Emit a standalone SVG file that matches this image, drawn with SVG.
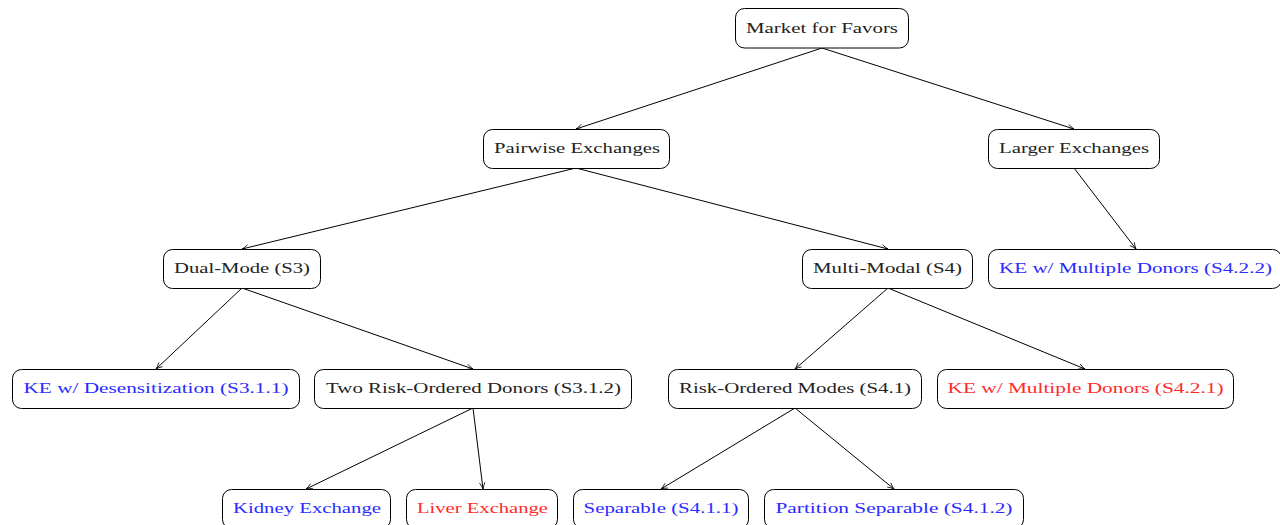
<svg xmlns="http://www.w3.org/2000/svg" width="1280" height="525" viewBox="0 0 1280 525">
<style>
.box{fill:#fff;stroke:#000;stroke-width:1}
.t{font-family:"Liberation Serif",serif;font-size:15.5px;fill:#222;text-anchor:middle}
.b{fill:#2a2aff}
.r{fill:#ff2a2a}
.e{stroke:#000;stroke-width:1;fill:none;marker-end:url(#ar)}
</style>
<defs>
<marker id="ar" viewBox="0 0 10 10" refX="9" refY="5" markerWidth="8" markerHeight="8" markerUnits="userSpaceOnUse" orient="auto">
<path d="M1,1.5 Q5,4 9,5 Q5,6 1,8.5" fill="none" stroke="#000" stroke-width="1"/>
</marker>
</defs>
<rect width="1280" height="525" fill="#fff"/>
<g id="connectors">
<line class="e" x1="822" y1="48" x2="576" y2="129"/>
<line class="e" x1="822" y1="48" x2="1074" y2="129"/>
<line class="e" x1="576" y1="168" x2="242" y2="249"/>
<line class="e" x1="576" y1="168" x2="888" y2="249"/>
<line class="e" x1="1074" y1="168" x2="1136" y2="249"/>
<line class="e" x1="242" y1="288" x2="156" y2="369"/>
<line class="e" x1="242" y1="288" x2="473" y2="369"/>
<line class="e" x1="888" y1="288" x2="795" y2="369"/>
<line class="e" x1="888" y1="288" x2="1085" y2="369"/>
<line class="e" x1="473" y1="408" x2="306" y2="489"/>
<line class="e" x1="473" y1="408" x2="483" y2="489"/>
<line class="e" x1="795" y1="408" x2="661" y2="489"/>
<line class="e" x1="795" y1="408" x2="894" y2="489"/>
</g>
<g id="n-market"><rect class="box" x="735.5" y="8.5" width="173" height="39.5" rx="9"/><text class="t" x="822" y="33" textLength="152" lengthAdjust="spacingAndGlyphs">Market for Favors</text></g>
<g id="n-pairwise"><rect class="box" x="483.5" y="129.5" width="186" height="39" rx="9"/><text class="t" x="577" y="153" textLength="166" lengthAdjust="spacingAndGlyphs">Pairwise Exchanges</text></g>
<g id="n-larger"><rect class="box" x="988.5" y="129.5" width="171" height="39" rx="9"/><text class="t" x="1074" y="153" textLength="150" lengthAdjust="spacingAndGlyphs">Larger Exchanges</text></g>
<g id="n-dual"><rect class="box" x="163.5" y="249.5" width="157" height="39" rx="9"/><text class="t" x="242" y="273" textLength="136" lengthAdjust="spacingAndGlyphs">Dual-Mode (S3)</text></g>
<g id="n-multi"><rect class="box" x="802.5" y="249.5" width="170" height="39" rx="9"/><text class="t" x="887.5" y="273" textLength="149" lengthAdjust="spacingAndGlyphs">Multi-Modal (S4)</text></g>
<g id="n-s422"><rect class="box" x="988.5" y="249.5" width="293" height="39" rx="9"/><text class="t b" x="1135.5" y="273" textLength="273" lengthAdjust="spacingAndGlyphs">KE w/ Multiple Donors (S4.2.2)</text></g>
<g id="n-desens"><rect class="box" x="12.5" y="369.5" width="287" height="39" rx="9"/><text class="t b" x="156" y="393" textLength="265" lengthAdjust="spacingAndGlyphs">KE w/ Desensitization (S3.1.1)</text></g>
<g id="n-tworisk"><rect class="box" x="314.5" y="369.5" width="317" height="39" rx="9"/><text class="t" x="473.5" y="393" textLength="295" lengthAdjust="spacingAndGlyphs">Two Risk-Ordered Donors (S3.1.2)</text></g>
<g id="n-riskmodes"><rect class="box" x="668.5" y="369.5" width="253" height="39" rx="9"/><text class="t" x="795" y="393" textLength="232" lengthAdjust="spacingAndGlyphs">Risk-Ordered Modes (S4.1)</text></g>
<g id="n-s421"><rect class="box" x="937.5" y="369.5" width="296" height="39" rx="9"/><text class="t r" x="1085.5" y="393" textLength="276" lengthAdjust="spacingAndGlyphs">KE w/ Multiple Donors (S4.2.1)</text></g>
<g id="n-kidney"><rect class="box" x="222.5" y="489.5" width="168" height="39" rx="9"/><text class="t b" x="307" y="513" textLength="148" lengthAdjust="spacingAndGlyphs">Kidney Exchange</text></g>
<g id="n-liver"><rect class="box" x="406.5" y="489.5" width="151" height="39" rx="9"/><text class="t r" x="482.5" y="513" textLength="131" lengthAdjust="spacingAndGlyphs">Liver Exchange</text></g>
<g id="n-separable"><rect class="box" x="573.5" y="489.5" width="175" height="39" rx="9"/><text class="t b" x="661" y="513" textLength="155" lengthAdjust="spacingAndGlyphs">Separable (S4.1.1)</text></g>
<g id="n-partition"><rect class="box" x="764.5" y="489.5" width="259" height="39" rx="9"/><text class="t b" x="894" y="513" textLength="237" lengthAdjust="spacingAndGlyphs">Partition Separable (S4.1.2)</text></g>
</svg>
